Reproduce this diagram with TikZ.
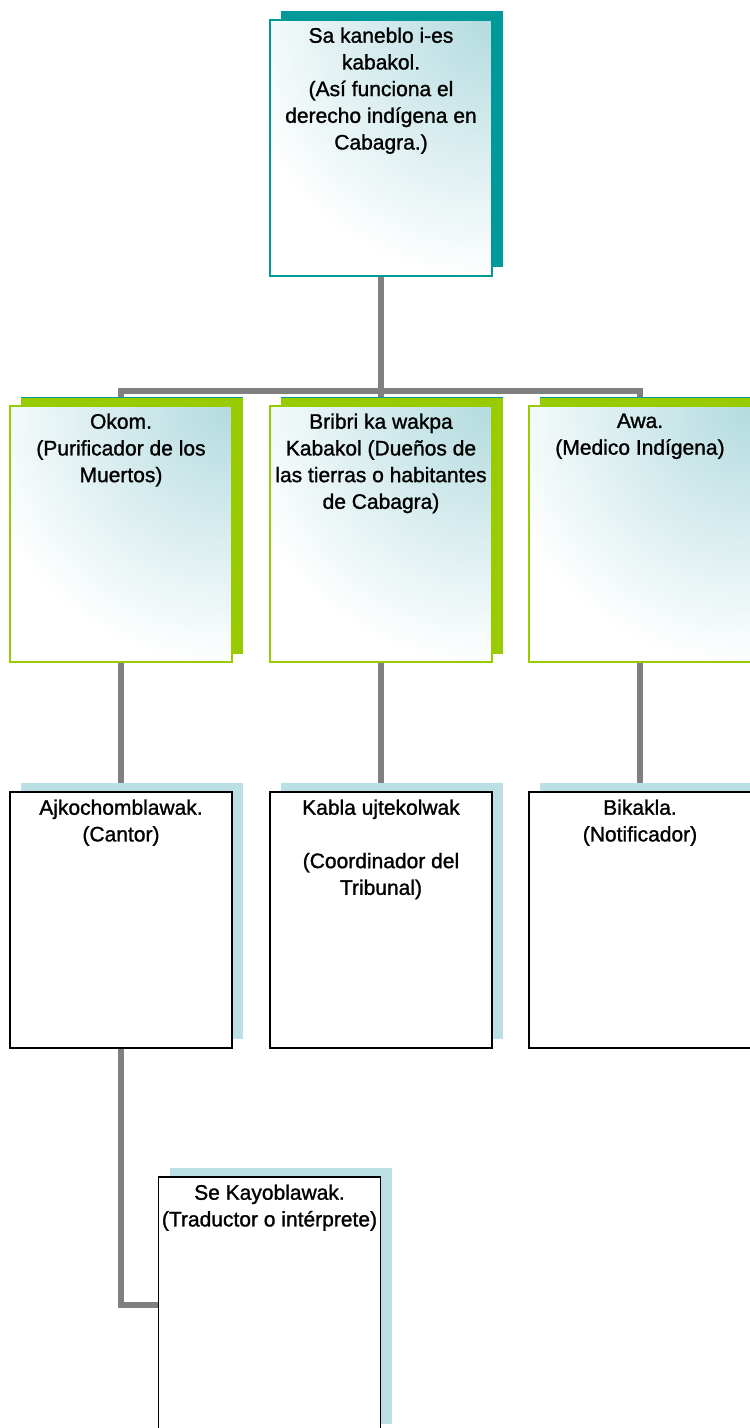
\documentclass[tikz,border=0pt]{standalone}
\usepackage{fontspec}
\setmainfont{Liberation Sans}
\newfontfamily\boxfont[FakeBold=1.2]{Liberation Sans}
\usetikzlibrary{backgrounds,shadows}
\definecolor{tealdark}{HTML}{009999}
\definecolor{limegreen}{HTML}{99CC00}
\definecolor{paleblue}{HTML}{BBE0E3}
\definecolor{fadeteal}{HTML}{B3DBDF}
\definecolor{linkgray}{HTML}{808080}
\newcommand{\boxtext}[1]{\parbox[t][241pt][t]{222pt}{\centering #1}}

\begin{document}
\begin{tikzpicture}[x=1pt,y=-1pt,font=\boxfont\fontsize{21}{26.7}\selectfont]
    %
    % `chief' is the top box, `member' the three green ones,
    % `helper' the plain boxes below them, `link' the grey lines.
    \tikzstyle{chief} = [draw=tealdark,line width=1.5pt,fill=white,path picture={\shade[inner color=fadeteal,outer color=white] (path picture bounding box.north east) circle (260pt);},minimum width=222pt,minimum height=256pt,inner xsep=0pt,inner ysep=7.5pt,general shadow={fill=tealdark,shadow xshift=11pt,shadow yshift=9pt}]
    \tikzstyle{member} = [chief,draw=limegreen,general shadow={fill=limegreen,shadow xshift=11pt,shadow yshift=8pt}]
    \tikzstyle{helper} = [draw=black,line width=1.5pt,fill=white,minimum width=222pt,minimum height=256pt,inner xsep=0pt,inner ysep=7.5pt,general shadow={fill=paleblue,shadow xshift=11pt,shadow yshift=9pt}]
    \tikzstyle{link} = [draw=linkgray,line width=6pt]
    %
    \useasboundingbox (0,0) rectangle (750,1428);
    \clip (0,0) rectangle (750,1428);
    %
    % Top
    \node[chief] (root) at (381,148) {\boxtext{Sa kaneblo i-es\\kabakol.\\(Así funciona el\\derecho indígena en\\Cabagra.)}};
    %
    % Row 1
    \node[member] (okom) at (121,534) {\boxtext{Okom.\\(Purificador de los\\Muertos)}};
    \node[member] (bribri) at (381,534) {\boxtext{Bribri ka wakpa\\Kabakol (Dueños de\\las tierras o habitantes\\de Cabagra)}};
    \node[member] (awa) at (640,534) {\boxtext{Awa.\\(Medico Indígena)}};
    %
    % Row 2
    \node[helper] (cantor) at (121,920) {\boxtext{Ajkochomblawak.\\(Cantor)}};
    \node[helper] (coord) at (381,920) {\boxtext{Kabla ujtekolwak\\[26.7pt](Coordinador del\\Tribunal)}};
    \node[helper] (notif) at (640,920) {\boxtext{Bikakla.\\(Notificador)}};
    %
    % Row 3
    \node[helper] (interp) at (269.5,1305) {\boxtext{Se Kayoblawak.\\(Traductor o intérprete)}};
    %
    % Lines
    \begin{scope}[on background layer]
    \coordinate (bar) at (381,391);
    \draw[link] (root) -- (bar);
    \draw[link] (okom) |- (bar) -| (awa);
    \draw[link] (bar) -- (bribri);
    \draw[link] (okom) -- (cantor);
    \draw[link] (bribri) -- (coord);
    \draw[link] (awa) -- (notif);
    \draw[link] (cantor.south) |- (interp);
    \end{scope}
    %
\end{tikzpicture}
\end{document}
